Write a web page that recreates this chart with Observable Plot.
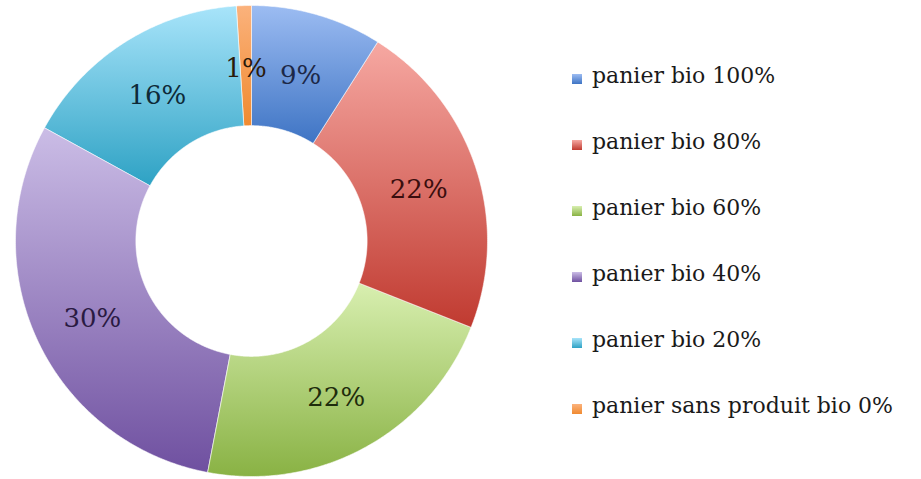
<!DOCTYPE html>
<html>
<head>
<meta charset="utf-8">
<script src="https://cdn.jsdelivr.net/npm/d3@7"></script>
<script src="https://cdn.jsdelivr.net/npm/@observablehq/plot@0.6"></script>
<style>
  html, body { margin: 0; padding: 0; background: #ffffff; }
  #wrap { position: relative; width: 921px; height: 479px; overflow: hidden; }
  #legend { position: absolute; left: 572px; top: 63px; font-family: "DejaVu Serif", serif; font-size: 22px; color: #1a1a1a; }
  .item { height: 66px; display: flex; align-items: flex-start; }
  .sw { width: 10px; height: 10px; margin-right: 10px; margin-top: 11px; }
</style>
</head>
<body>
<div id="wrap"></div>
<script>
// --- data ---
const categories = ["panier bio 100%", "panier bio 80%", "panier bio 60%", "panier bio 40%", "panier bio 20%", "panier sans produit bio 0%"];
const values = [9, 22, 22, 30, 16, 1];
const labels = ["9%", "22%", "22%", "30%", "16%", "1%"];

// --- styles ---
const topColors = ["#9cbcf2", "#f6a8a2", "#d8efb0", "#cbbde6", "#a8e4fa", "#fbb27c"];
const bottomColors = ["#3e74c4", "#c03a30", "#89b244", "#6f50a0", "#2ea2c4", "#f08a30"];
const labelColors = ["#1c2848", "#3a0e0e", "#1e2c0c", "#2a1a42", "#0e2a38", "#2a1a0a"];
const innerRatio = 0.49;

const pie = d3.pie().sort(null).value(d => d)(values);

// build ring polygons from the pie angles
const slices = pie.map((p, i) => {
  const pts = [];
  const n = Math.max(2, Math.ceil((p.endAngle - p.startAngle) / (Math.PI / 360)));
  for (let k = 0; k <= n; k++) {
    const a = p.startAngle + (p.endAngle - p.startAngle) * k / n;
    pts.push({x: Math.sin(a), y: Math.cos(a)});
  }
  for (let k = n; k >= 0; k--) {
    const a = p.startAngle + (p.endAngle - p.startAngle) * k / n;
    pts.push({x: innerRatio * Math.sin(a), y: innerRatio * Math.cos(a)});
  }
  return pts;
});

const rm = (1 + innerRatio) / 2;
const labelData = pie.map((p, i) => {
  const a = (p.startAngle + p.endAngle) / 2;
  return {x: rm * Math.sin(a), y: rm * Math.cos(a), text: labels[i], color: labelColors[i]};
});

const marks = slices.map((pts, i) =>
  Plot.line(pts, {x: "x", y: "y", curve: "linear-closed", fill: `url(#grad${i})`, stroke: "#ffffff", strokeWidth: 0.8, strokeOpacity: 0.7})
);
marks.push(Plot.text(labelData, {x: "x", y: "y", text: "text", fill: "color", fontSize: 26, fontFamily: "DejaVu Serif", textAnchor: "middle", dy: 3}));

const svg = Plot.plot({
  width: 921,
  height: 479,
  marginLeft: 15,
  marginRight: 434,
  marginTop: 5,
  marginBottom: 3,
  x: {domain: [-1, 1], axis: null},
  y: {domain: [-1, 1], axis: null},
  style: {background: "#ffffff", overflow: "visible"},
  marks
});

const defs = d3.select(svg).insert("defs", ":first-child");
topColors.forEach((c, i) => {
  const g = defs.append("linearGradient").attr("id", `grad${i}`).attr("x1", 0).attr("y1", 0).attr("x2", 0).attr("y2", 1);
  g.append("stop").attr("offset", "0%").attr("stop-color", c);
  g.append("stop").attr("offset", "100%").attr("stop-color", bottomColors[i]);
});

const wrap = document.getElementById("wrap");
wrap.appendChild(svg);

const legend = document.createElement("div");
legend.id = "legend";
categories.forEach((cat, i) => {
  const item = document.createElement("div");
  item.className = "item";
  const sw = document.createElement("div");
  sw.className = "sw";
  sw.style.background = `linear-gradient(${topColors[i]}, ${bottomColors[i]})`;
  const t = document.createElement("span");
  t.textContent = cat;
  item.appendChild(sw);
  item.appendChild(t);
  legend.appendChild(item);
});
wrap.appendChild(legend);
</script>
</body>
</html>
